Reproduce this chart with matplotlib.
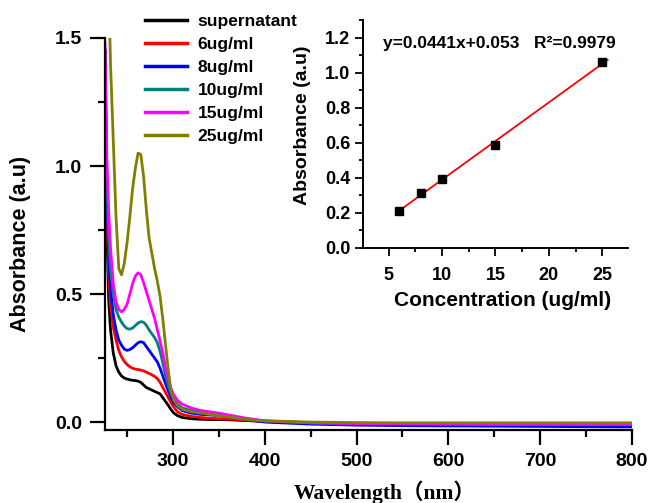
import matplotlib
matplotlib.use("Agg")
import matplotlib.pyplot as plt
import numpy as np
from matplotlib.ticker import MultipleLocator

plt.rcParams['font.family'] = ['Liberation Sans', 'DejaVu Sans']
plt.rcParams['font.weight'] = 'bold'

# UV-vis spectra
wavelength = [226, 228, 230, 232, 235, 238, 241, 244, 247, 250, 253, 256, 259, 262, 265,
              268, 271, 274, 277, 280, 283, 286, 289, 292, 295, 298, 301, 305, 310, 320,
              330, 340, 350, 360, 380, 400, 450, 500, 550, 600, 650, 700, 750, 800]

supernatant = [1.45, 0.75, 0.48, 0.36, 0.27, 0.22, 0.195, 0.18, 0.172, 0.168, 0.165, 0.163, 0.162, 0.16, 0.155,
               0.145, 0.135, 0.13, 0.125, 0.12, 0.115, 0.11, 0.095, 0.08, 0.065, 0.048, 0.035, 0.025, 0.018, 0.013,
               0.011, 0.01, 0.01, 0.009, 0.006, 0.002, -0.003, -0.005, -0.006, -0.007, -0.007, -0.007, -0.007, -0.007]
c6 = [1.45, 0.85, 0.58, 0.46, 0.37, 0.32, 0.28, 0.255, 0.237, 0.225, 0.216, 0.21, 0.207, 0.205, 0.203,
      0.20, 0.195, 0.19, 0.185, 0.178, 0.17, 0.155, 0.135, 0.115, 0.095, 0.075, 0.058, 0.04, 0.03, 0.022,
      0.018, 0.015, 0.013, 0.012, 0.008, 0.003, -0.003, -0.006, -0.007, -0.008, -0.008, -0.008, -0.008, -0.008]
c8 = [1.45, 0.90, 0.65, 0.52, 0.42, 0.36, 0.32, 0.30, 0.285, 0.28, 0.283, 0.29, 0.30, 0.31, 0.314,
      0.31, 0.295, 0.28, 0.265, 0.25, 0.235, 0.21, 0.18, 0.15, 0.12, 0.095, 0.075, 0.06, 0.045, 0.035,
      0.03, 0.028, 0.025, 0.02, 0.01, 0.0, -0.008, -0.012, -0.014, -0.015, -0.016, -0.017, -0.018, -0.019]
c10 = [1.45, 0.95, 0.72, 0.60, 0.50, 0.44, 0.41, 0.39, 0.375, 0.365, 0.363, 0.367, 0.377, 0.387, 0.392,
       0.39, 0.378, 0.36, 0.345, 0.33, 0.31, 0.275, 0.23, 0.18, 0.14, 0.11, 0.09, 0.07, 0.055, 0.045,
       0.04, 0.035, 0.03, 0.025, 0.012, 0.004, -0.003, -0.006, -0.007, -0.008, -0.008, -0.008, -0.008, -0.008]
c15 = [1.48, 1.03, 0.82, 0.68, 0.54, 0.47, 0.44, 0.43, 0.44, 0.46, 0.50, 0.54, 0.57, 0.583, 0.575,
       0.545, 0.51, 0.475, 0.44, 0.405, 0.36, 0.315, 0.27, 0.21, 0.165, 0.13, 0.105, 0.085, 0.07, 0.055,
       0.045, 0.04, 0.035, 0.028, 0.015, 0.005, -0.003, -0.006, -0.007, -0.008, -0.009, -0.009, -0.009, -0.009]
c25 = [2.3, 2.0, 1.7, 1.40, 1.10, 0.80, 0.60, 0.575, 0.62, 0.70, 0.80, 0.91, 0.99, 1.05, 1.045,
       0.96, 0.83, 0.72, 0.66, 0.60, 0.55, 0.49, 0.40, 0.30, 0.20, 0.12, 0.085, 0.065, 0.05, 0.04,
       0.035, 0.03, 0.025, 0.02, 0.01, 0.005, 0.0, -0.002, -0.003, -0.003, -0.003, -0.003, -0.003, -0.003]

series = [supernatant, c6, c8, c10, c15, c25]
labels = ['supernatant', '6ug/ml', '8ug/ml', '10ug/ml', '15ug/ml', '25ug/ml']
colors = ['#000000', '#FF0000', '#0000FF', '#008080', '#FF00FF', '#808000']

# calibration points
conc = [6, 8, 10, 15, 25]
peak_abs = [0.21, 0.315, 0.395, 0.585, 1.06]

fig = plt.figure(figsize=(6.49, 5.03), dpi=100)
ax = fig.add_axes([0.1618, 0.1451, 0.812, 0.7794])

for y, lab, c in zip(series, labels, colors):
    ax.plot(wavelength, y, color=c, lw=2.0, label=lab)

ax.set_xlim(226, 800)
ax.set_ylim(-0.031, 1.5)
ax.set_xticks([300, 400, 500, 600, 700, 800])
ax.xaxis.set_minor_locator(MultipleLocator(50))
ax.set_yticks([0.0, 0.5, 1.0, 1.5])
ax.yaxis.set_minor_locator(MultipleLocator(0.25))
ax.spines['top'].set_visible(False)
ax.spines['right'].set_visible(False)
for s in ['left', 'bottom']:
    ax.spines[s].set_linewidth(1.6)
ax.tick_params(which='major', direction='out', length=10.5, width=1.6, labelsize=14, pad=6)
ax.tick_params(which='minor', direction='out', length=5, width=1.6)
for t in ax.get_xticklabels() + ax.get_yticklabels():
    t.set_fontweight('bold')

ax.set_ylabel('Absorbance (a.u)', fontsize=15.5, fontweight='bold')
ax.yaxis.set_label_coords(-0.141, 0.475)
ax.set_xlabel('Wavelength（nm）', fontsize=15.5, fontweight='bold',
              family=['Liberation Serif', 'Noto Sans CJK SC'])
ax.xaxis.set_label_coords(0.531, -0.128)

leg = ax.legend(loc='upper left', bbox_to_anchor=(138 / 649, 1 - 7 / 503),
                bbox_transform=fig.transFigure, frameon=False, handlelength=2.4,
                handletextpad=0.63, labelspacing=0.45, borderaxespad=0,
                prop={'weight': 'bold', 'size': 12.5})
for line in leg.get_lines():
    line.set_linewidth(2.5)

# inset: calibration curve
ins = fig.add_axes([0.5593, 0.507, 0.4083, 0.4532])
slope, icpt = np.polyfit(conc, peak_abs, 1)
xfit = np.array([6, 25.5])
ins.plot(xfit, slope * xfit + icpt, color='#FF0000', lw=1.3)
ins.plot(conc, peak_abs, 's', color='black', markersize=6)
ins.set_xlim(2.6, 27.4)
ins.set_ylim(0, 1.3)
ins.set_xticks([5, 10, 15, 20, 25])
ins.xaxis.set_minor_locator(MultipleLocator(2.5))
ins.set_yticks([0.0, 0.2, 0.4, 0.6, 0.8, 1.0, 1.2])
ins.yaxis.set_minor_locator(MultipleLocator(0.1))
ins.spines['top'].set_visible(False)
ins.spines['right'].set_visible(False)
for s in ['left', 'bottom']:
    ins.spines[s].set_linewidth(1.4)
ins.tick_params(which='major', direction='out', length=5.5, width=1.3, labelsize=13)
ins.tick_params(which='minor', direction='out', length=3, width=1.3)
ins.tick_params(axis='x', which='major', pad=8)
for t in ins.get_xticklabels() + ins.get_yticklabels():
    t.set_fontweight('bold')
ins.set_xlabel('Concentration (ug/ml)', fontsize=15, fontweight='bold')
ins.xaxis.set_label_coords(0.525, -0.19)
ins.set_ylabel('Absorbance (a.u)', fontsize=14, fontweight='bold')
ins.yaxis.set_label_coords(-0.195, 0.54)
ins.text(0.075, 0.895, 'y=0.0441x+0.053   R²=0.9979', transform=ins.transAxes,
         fontsize=12.5, fontweight='bold', va='center')

fig.savefig('out.png', dpi=100)
